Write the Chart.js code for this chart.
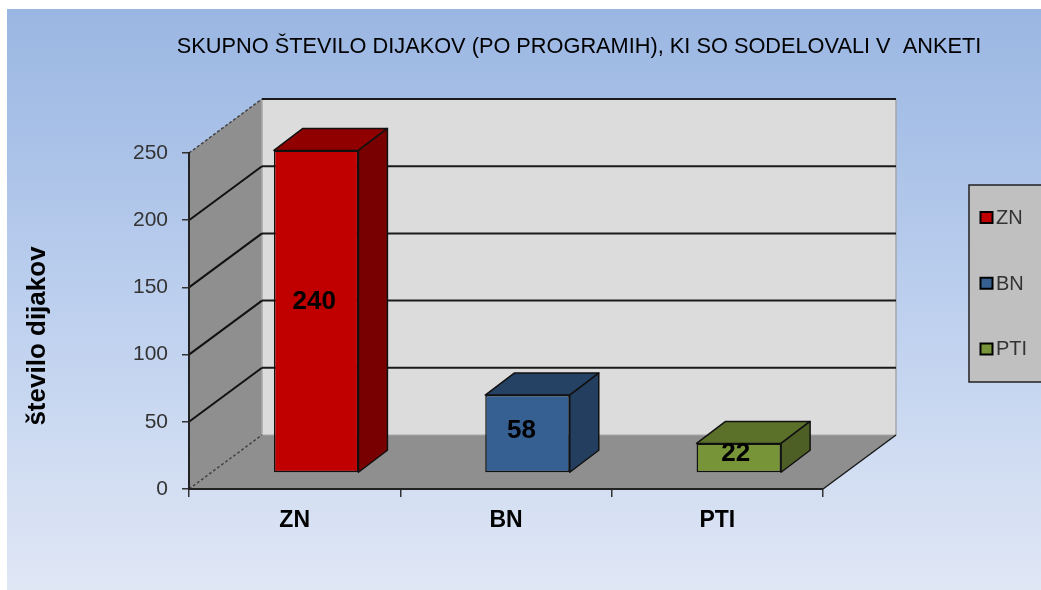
<!DOCTYPE html>
<html>
<head>
<meta charset="utf-8">
<style>html,body{margin:0;padding:0;background:#fff}canvas{display:block}#w{width:1041px;height:590px;position:relative}</style>
<script src="https://cdn.jsdelivr.net/npm/chart.js@4"></script>
</head>
<body>
<div id="w"><canvas id="c"></canvas></div>
<script>
const categories = ["ZN", "BN", "PTI"];
const values = [240, 58, 22];
const yTicks = [0, 50, 100, 150, 200, 250];
const titleText = "SKUPNO ŠTEVILO DIJAKOV (PO PROGRAMIH), KI SO SODELOVALI V  ANKETI";
const yTitleText = "število dijakov";
const frontColors = ["#c00000", "#376092", "#779438"];
const topColors = ["#900000", "#254265", "#5b7029"];
const sideColors = ["#780000", "#233e5f", "#4e5f26"];

const WALL = {dx: 73, dy: -54};
const BAR_SHIFT = {dx: 21.5, dy: -16};
const BAR_DEPTH = {dx: 29, dy: -22};
const LABEL_NUDGE = [[-2, -10], [-6, -3], [-3, -4]];

function poly(ctx, pts, fill, stroke, lw) {
  ctx.beginPath();
  pts.forEach((p, i) => i ? ctx.lineTo(p[0], p[1]) : ctx.moveTo(p[0], p[1]));
  ctx.closePath();
  if (fill) { ctx.fillStyle = fill; ctx.fill(); }
  if (stroke) { ctx.strokeStyle = stroke; ctx.lineWidth = lw || 1; ctx.stroke(); }
}
function seg(ctx, x1, y1, x2, y2, color, lw, dash) {
  ctx.save();
  ctx.beginPath();
  ctx.setLineDash(dash || []);
  ctx.moveTo(x1, y1); ctx.lineTo(x2, y2);
  ctx.strokeStyle = color; ctx.lineWidth = lw; ctx.stroke();
  ctx.restore();
}

const scene = {
  id: "scene",
  beforeDraw(chart) {
    const {ctx, chartArea: a, scales: {y}} = chart;
    ctx.save();
    const g = ctx.createLinearGradient(0, 9, 0, 590);
    g.addColorStop(0, "#9ab6e2");
    g.addColorStop(0.5, "#bccfee");
    g.addColorStop(1, "#e0e7f5");
    ctx.fillStyle = g;
    ctx.fillRect(7, 9, 1034, 581);
    const L = a.left, R = a.right, T = a.top, B = a.bottom, dx = WALL.dx, dy = WALL.dy;
    poly(ctx, [[L + dx, T + dy], [R + dx, T + dy], [R + dx, B + dy], [L + dx, B + dy]], "#dcdcdc");
    poly(ctx, [[L, T], [L + dx, T + dy], [L + dx, B + dy], [L, B]], "#8f8f8f");
    poly(ctx, [[L, B], [R, B], [R + dx, B + dy], [L + dx, B + dy]], "#8f8f8f");
    seg(ctx, R + dx, T + dy, R + dx, B + dy, "#a3a7ad", 1.5);
    seg(ctx, L + dx, T + dy, L + dx, B + dy, "#a8a8a8", 1.5);
    seg(ctx, L + dx, B + dy, R + dx, B + dy, "#a8a8a8", 1);
    seg(ctx, R, B, R + dx, B + dy, "#1a1a1a", 1.5);
    yTicks.forEach(v => {
      const py = y.getPixelForValue(v);
      const edgeValue = v === 0 || v === yTicks[yTicks.length - 1];
      seg(ctx, L, py, L + dx, py + dy, edgeValue ? "#444" : "#111", edgeValue ? 1.5 : 2, edgeValue ? [3, 2] : []);
      if (v !== 0) seg(ctx, L + dx, py + dy, R + dx, py + dy, "#1a1a1a", 2);
    });
    ctx.restore();
  },
  beforeDatasetsDraw(chart) {
    const {ctx} = chart;
    const bars = chart.getDatasetMeta(0).data;
    ctx.save();
    ctx.lineJoin = "round";
    bars.forEach((b, i) => {
      const l = b.x - b.width / 2 + BAR_SHIFT.dx, r = b.x + b.width / 2 + BAR_SHIFT.dx;
      const t = b.y + BAR_SHIFT.dy, bt = b.base + BAR_SHIFT.dy;
      const ox = BAR_DEPTH.dx, oy = BAR_DEPTH.dy;
      poly(ctx, [[l, t], [l + ox, t + oy], [r + ox, t + oy], [r, t]], topColors[i], "#111", 1.5);
      poly(ctx, [[r, t], [r + ox, t + oy], [r + ox, bt + oy], [r, bt]], sideColors[i], "#111", 1.5);
    });
    ctx.restore();
  },
  beforeDatasetDraw(chart) {
    chart.ctx.save();
    chart.ctx.translate(BAR_SHIFT.dx, BAR_SHIFT.dy);
  },
  afterDatasetDraw(chart) {
    chart.ctx.restore();
  },
  afterDraw(chart) {
    const {ctx} = chart;
    const bars = chart.getDatasetMeta(0).data;
    ctx.save();
    // value labels
    ctx.textAlign = "center"; ctx.textBaseline = "middle";
    ctx.fillStyle = "#000";
    ctx.font = 'bold 26px "Liberation Sans"';
    bars.forEach((b, i) => {
      ctx.fillText(String(values[i]), b.x + BAR_SHIFT.dx + LABEL_NUDGE[i][0],
        (b.y + b.base) / 2 + BAR_SHIFT.dy + LABEL_NUDGE[i][1]);
    });
    // title
    ctx.font = '21.75px "Liberation Sans"';
    ctx.fillStyle = "#000";
    ctx.fillText(titleText, 579, 47);
    // y axis title
    ctx.save();
    ctx.translate(38, 336);
    ctx.rotate(-Math.PI / 2);
    ctx.font = 'bold 26px "Liberation Sans"';
    ctx.fillText(yTitleText, 0, 0);
    ctx.restore();
    // legend
    ctx.fillStyle = "#c0c0c0";
    ctx.strokeStyle = "#222"; ctx.lineWidth = 1.5;
    ctx.beginPath(); ctx.rect(969, 185, 80, 197); ctx.fill(); ctx.stroke();
    ctx.textAlign = "left";
    ctx.font = '20px "Liberation Sans"';
    categories.forEach((name, i) => {
      const cy = 217.5 + i * 65.7;
      ctx.fillStyle = frontColors[i];
      ctx.strokeStyle = "#000"; ctx.lineWidth = 2;
      ctx.beginPath(); ctx.rect(980.5, cy - 5.5, 12, 11); ctx.fill(); ctx.stroke();
      ctx.fillStyle = "#333";
      ctx.fillText(name, 996, cy + 1);
    });
    ctx.restore();
  }
};

new Chart(document.getElementById("c"), {
  type: "bar",
  data: {
    labels: categories,
    datasets: [{
      data: values,
      backgroundColor: frontColors,
      borderColor: "#111",
      borderWidth: 1.5,
      borderSkipped: false,
      barPercentage: 0.4,
      categoryPercentage: 1,
      clip: false
    }]
  },
  plugins: [scene],
  options: {
    responsive: true,
    maintainAspectRatio: false,
    animation: false,
    layout: {autoPadding: false, padding: {left: 0, top: 153, right: 218, bottom: 61}},
    plugins: {legend: {display: false}, tooltip: {enabled: false}, title: {display: false}},
    scales: {
      x: {
        afterFit: s => { s.height = 40; },
        grid: {display: true, drawOnChartArea: false, drawTicks: true, tickLength: 8, color: "#333", lineWidth: 1.5},
        border: {color: "#222", width: 2},
        ticks: {color: "#000", padding: 10, maxRotation: 0, font: {family: "Liberation Sans", size: 23, weight: "bold"}}
      },
      y: {
        min: 0,
        max: 250,
        afterFit: s => { s.width = 189; },
        afterBuildTicks: s => { s.ticks = yTicks.map(v => ({value: v})); },
        grid: {display: true, drawOnChartArea: false, drawTicks: true, tickLength: 7, color: "#333", lineWidth: 1.5},
        border: {color: "#222", width: 2},
        ticks: {color: "#333", padding: 14, font: {family: "Liberation Sans", size: 21}}
      }
    }
  }
});
</script>
</body>
</html>
